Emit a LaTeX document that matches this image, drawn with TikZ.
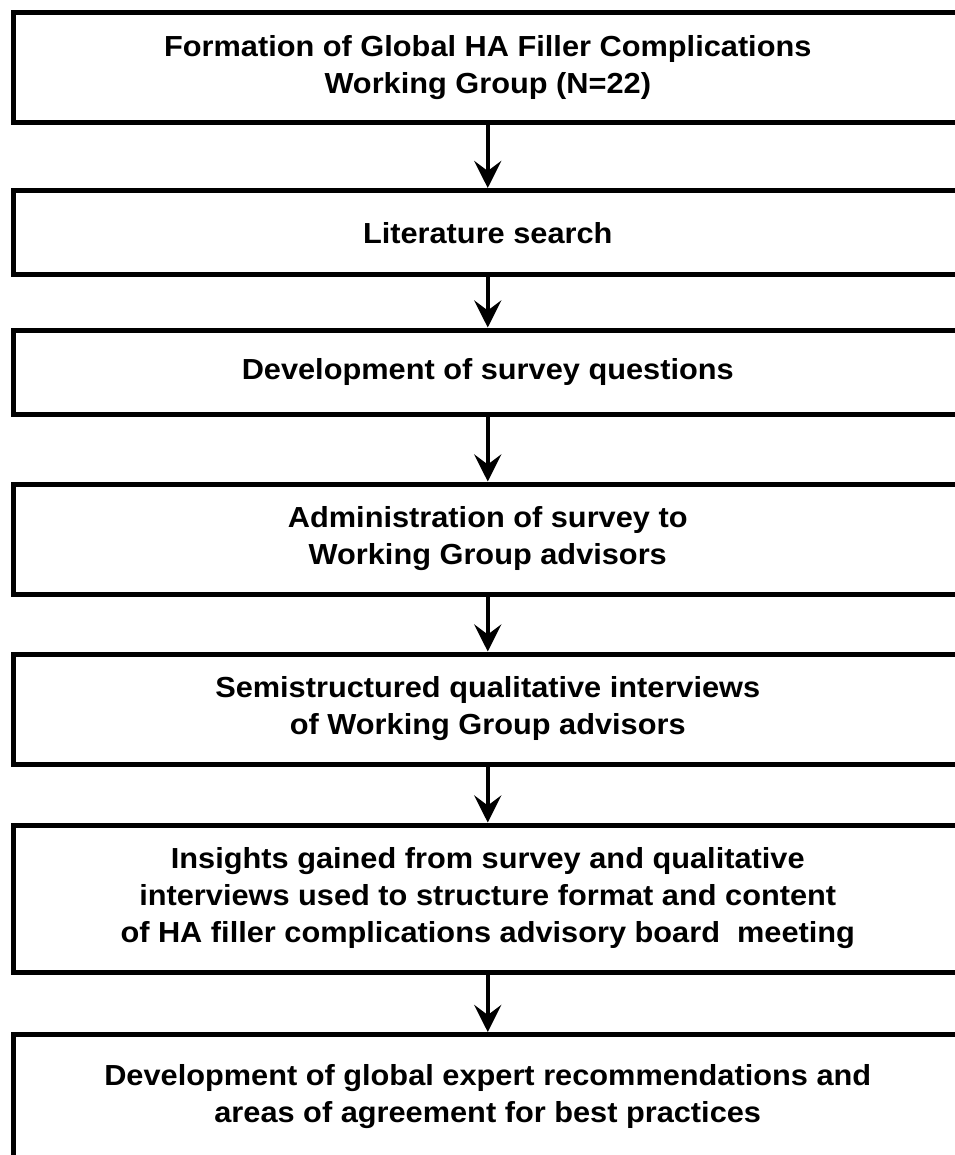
\documentclass[tikz,border=0pt]{standalone}
\usepackage{fontspec}
\setmainfont{Liberation Sans}[FakeStretch=1.06]
\usetikzlibrary{arrows.meta}
\tikzset{
  stepbox/.style={draw=black, line width=5pt, fill=white, minimum width=948.5pt, inner sep=0pt,
    align=center, font=\fontsize{29}{37}\selectfont\bfseries},
  flowarrow/.style={line width=4.5pt, -{Stealth[length=27pt, width=27pt, inset=10pt]}}
}
\begin{document}
\begin{tikzpicture}[x=1pt, y=-1pt]
\useasboundingbox[fill=white] (0,0) rectangle (954,1155);
\node[stepbox, minimum height=110pt] (b1) at (487.75,67.5) {Formation of Global HA Filler Complications\\Working Group (N=22)};
\node[stepbox, minimum height=84.5pt] (b2) at (487.75,232.75) {Literature search};
\node[stepbox, minimum height=84pt] (b3) at (487.75,372) {Development of survey questions};
\node[stepbox, minimum height=110pt] (b4) at (487.75,539) {Administration of survey to\\Working Group advisors};
\node[stepbox, minimum height=110pt] (b5) at (487.75,709) {Semistructured qualitative interviews\\of Working Group advisors};
\node[stepbox, minimum height=147pt] (b6) at (487.75,898.5) {Insights gained from survey and qualitative\\interviews used to structure format and content\\of HA filler complications advisory board~~meeting};
\node[stepbox, minimum height=125pt] (b7) at (487.75,1097) {Development of global expert recommendations and\\areas of agreement for best practices};
\draw[flowarrow] (b1.south) -- (b2.north);
\draw[flowarrow] (b2.south) -- (b3.north);
\draw[flowarrow] (b3.south) -- (b4.north);
\draw[flowarrow] (b4.south) -- (b5.north);
\draw[flowarrow] (b5.south) -- (b6.north);
\draw[flowarrow] (b6.south) -- (b7.north);
\end{tikzpicture}
\end{document}
